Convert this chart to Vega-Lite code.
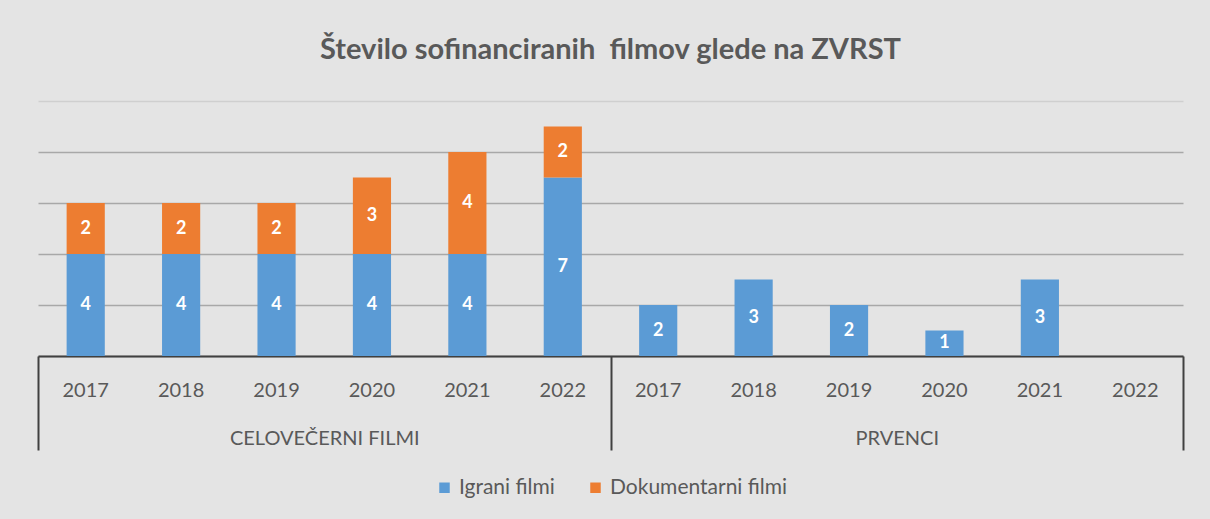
{
  "$schema": "https://vega.github.io/schema/vega-lite/v6.json",
  "width": 1145,
  "height": 255,
  "autosize": {"type": "none"},
  "padding": {"left": 38, "top": 101, "right": 27, "bottom": 163},
  "background": "#e4e4e4",
  "title": {
    "text": "Število sofinanciranih\u00a0 filmov glede na ZVRST",
    "fontSize": 29,
    "font": "Lato",
    "fontWeight": "bold",
    "color": "#595959",
    "offset": 36,
    "anchor": "middle"
  },
  "config": {
    "view": {"stroke": null},
    "font": "Lato",
    "legend": {"layout": {"bottom": {"anchor": "middle"}}}
  },
  "data": {
    "values": [
      {"grp": "CELOVEČERNI FILMI", "key": "C 2017", "series": "Igrani filmi", "value": 4},
      {"grp": "CELOVEČERNI FILMI", "key": "C 2017", "series": "Dokumentarni filmi", "value": 2},
      {"grp": "CELOVEČERNI FILMI", "key": "C 2018", "series": "Igrani filmi", "value": 4},
      {"grp": "CELOVEČERNI FILMI", "key": "C 2018", "series": "Dokumentarni filmi", "value": 2},
      {"grp": "CELOVEČERNI FILMI", "key": "C 2019", "series": "Igrani filmi", "value": 4},
      {"grp": "CELOVEČERNI FILMI", "key": "C 2019", "series": "Dokumentarni filmi", "value": 2},
      {"grp": "CELOVEČERNI FILMI", "key": "C 2020", "series": "Igrani filmi", "value": 4},
      {"grp": "CELOVEČERNI FILMI", "key": "C 2020", "series": "Dokumentarni filmi", "value": 3},
      {"grp": "CELOVEČERNI FILMI", "key": "C 2021", "series": "Igrani filmi", "value": 4},
      {"grp": "CELOVEČERNI FILMI", "key": "C 2021", "series": "Dokumentarni filmi", "value": 4},
      {"grp": "CELOVEČERNI FILMI", "key": "C 2022", "series": "Igrani filmi", "value": 7},
      {"grp": "CELOVEČERNI FILMI", "key": "C 2022", "series": "Dokumentarni filmi", "value": 2},
      {"grp": "PRVENCI", "key": "P 2017", "series": "Igrani filmi", "value": 2},
      {"grp": "PRVENCI", "key": "P 2018", "series": "Igrani filmi", "value": 3},
      {"grp": "PRVENCI", "key": "P 2019", "series": "Igrani filmi", "value": 2},
      {"grp": "PRVENCI", "key": "P 2020", "series": "Igrani filmi", "value": 1},
      {"grp": "PRVENCI", "key": "P 2021", "series": "Igrani filmi", "value": 3}
    ]
  },
  "layer": [
    {
      "transform": [
        {"stack": "value", "groupby": ["key"], "sort": [{"field": "series", "order": "descending"}], "as": ["v0", "v1"]}
      ],
      "encoding": {
        "x": {
          "field": "key",
          "type": "nominal",
          "scale": {
            "domain": ["C 2017", "C 2018", "C 2019", "C 2020", "C 2021", "C 2022", "P 2017", "P 2018", "P 2019", "P 2020", "P 2021", "P 2022"],
            "paddingInner": 0.6,
            "paddingOuter": 0.3
          },
          "axis": {
            "title": null,
            "orient": "bottom",
            "labelExpr": "slice(datum.value, 2)",
            "labelAngle": 0,
            "ticks": false,
            "domainColor": "#404040",
            "domainWidth": 2,
            "labelColor": "#595959",
            "labelFontSize": 20,
            "labelFont": "Lato",
            "labelPadding": 24
          }
        }
      },
      "layer": [
        {
          "mark": {"type": "bar"},
          "encoding": {
            "y": {
              "field": "v0",
              "type": "quantitative",
              "stack": null,
              "scale": {"domain": [0, 10], "nice": false},
              "axis": {
                "title": null,
                "values": [0, 2, 4, 6, 8, 10],
                "labels": false,
                "ticks": false,
                "domain": false,
                "grid": true,
                "gridColor": {"condition": {"test": "datum.value == 10", "value": "#cfcfcf"}, "value": "#a8a8a8"},
                "gridWidth": 1.5
              }
            },
            "y2": {"field": "v1"},
            "color": {
              "field": "series",
              "type": "nominal",
              "scale": {"domain": ["Igrani filmi", "Dokumentarni filmi"], "range": ["#5b9bd5", "#ed7d31"]},
              "legend": {
                "orient": "bottom",
                "direction": "horizontal",
                "title": null,
                "symbolType": "square",
                "symbolSize": 110,
                "symbolStrokeWidth": 0,
                "labelFontSize": 21,
                "labelFont": "Lato",
                "labelColor": "#595959",
                "labelLimit": 400,
                "columnPadding": 30,
                "offset": 26
              }
            }
          }
        },
        {
          "transform": [{"fold": ["v0", "v1"], "as": ["edge", "pos"]}],
          "mark": {"type": "text", "color": "white", "fontWeight": "bold", "fontSize": 18, "font": "Lato", "baseline": "middle"},
          "encoding": {
            "y": {
              "aggregate": "mean",
              "field": "pos",
              "type": "quantitative",
              "axis": {
                "title": null,
                "values": [0, 2, 4, 6, 8, 10],
                "labels": false,
                "ticks": false,
                "domain": false,
                "grid": true,
                "gridColor": {"condition": {"test": "datum.value == 10", "value": "#cfcfcf"}, "value": "#a8a8a8"},
                "gridWidth": 1.5
              }
            },
            "detail": {"field": "series"},
            "text": {"field": "value", "type": "quantitative"}
          }
        }
      ]
    },
    {
      "mark": {"type": "rule", "opacity": 0},
      "encoding": {
        "x": {
          "field": "grp",
          "type": "nominal",
          "scale": {"domain": ["CELOVEČERNI FILMI", "PRVENCI"], "paddingInner": 0, "paddingOuter": 0},
          "axis": {
            "title": null,
            "orient": "bottom",
            "tickBand": "extent",
            "tickSize": 94,
            "tickColor": "#404040",
            "tickWidth": 2,
            "domain": false,
            "labelAngle": 0,
            "labelPadding": -22,
            "labelFontSize": 20,
            "labelFont": "Lato",
            "labelLimit": 400,
            "labelColor": "#595959"
          }
        }
      }
    }
  ],
  "resolve": {"scale": {"x": "independent"}, "axis": {"x": "independent"}}
}
